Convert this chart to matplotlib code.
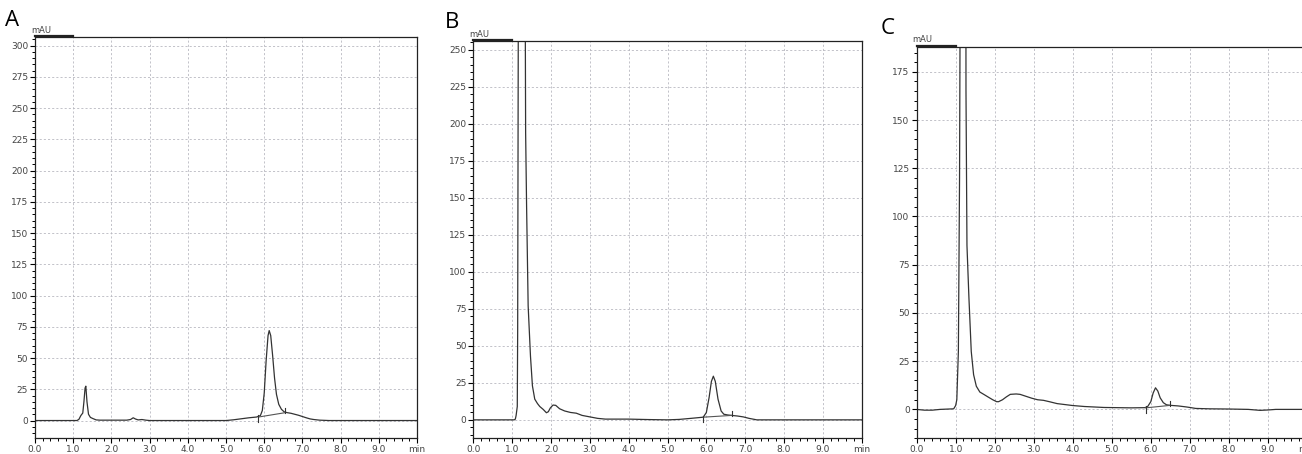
import numpy as np
import matplotlib
matplotlib.use("Agg")
import matplotlib.pyplot as plt
from matplotlib.ticker import MultipleLocator

# chromatogram traces (time in min, signal in mAU)
a_time = [0.0, 1.10, 1.15, 1.20, 1.25, 1.28, 1.31, 1.33, 1.36, 1.40, 1.45, 1.52,
          1.60, 1.70, 2.40, 2.50, 2.57, 2.63, 2.70, 2.80, 2.90, 3.00, 5.00, 5.20,
          5.40, 5.60, 5.80, 5.90, 5.95, 6.00, 6.05, 6.10, 6.13, 6.17, 6.22, 6.27,
          6.32, 6.38, 6.45, 6.52, 6.60, 6.70, 6.80, 6.90, 7.00, 7.10, 7.20, 7.30,
          7.45, 7.70, 10.0]
a_signal = [0, 0, 1, 4, 6, 15, 26, 27.5, 15, 5, 2.5, 1.5,
            0.5, 0.3, 0.3, 0.8, 2.2, 1.2, 0.5, 0.8, 0.3, 0, 0, 0.6,
            1.4, 2.2, 2.8, 4, 8, 22, 48, 68, 72, 68, 52, 34,
            21, 13, 9, 7, 6.3, 5.8, 5.0, 4.2, 3.2, 2.2, 1.3, 0.8,
            0.3, 0, 0]

b_time = [0.0, 1.05, 1.08, 1.10, 1.13, 1.14, 1.16, 1.25, 1.33, 1.345, 1.37, 1.41,
          1.47, 1.52, 1.58, 1.65, 1.71, 1.80, 1.88, 1.93, 1.98, 2.05, 2.12, 2.22,
          2.35, 2.50, 2.65, 2.80, 3.00, 3.20, 3.40, 4.00, 4.50, 5.00, 5.30, 5.60,
          5.92, 6.00, 6.07, 6.13, 6.18, 6.23, 6.30, 6.38, 6.45, 6.55, 6.65, 6.80,
          6.95, 7.10, 7.30, 10.0]
b_signal = [0, 0, 0.5, 3, 9, 60, 320, 700, 320, 194, 144, 77,
            43, 23, 14, 11, 9, 7, 4.8, 5.5, 8, 10, 9.8, 7.5,
            6, 5, 4.5, 3, 2, 1, 0.5, 0.5, 0.2, 0, 0.3, 1,
            1.8, 5, 15, 26, 29.5, 26, 14, 6, 3.8, 3.3, 3, 2.6,
            2, 1, 0, 0]

c_time = [0.0, 0.2, 0.4, 0.6, 0.95, 1.00, 1.03, 1.07, 1.10, 1.13, 1.20, 1.26,
          1.265, 1.29, 1.34, 1.40, 1.46, 1.53, 1.62, 1.72, 1.85, 1.95, 2.05, 2.10,
          2.20, 2.30, 2.40, 2.55, 2.65, 2.80, 2.95, 3.10, 3.25, 3.40, 3.60, 3.80,
          4.00, 4.30, 4.80, 5.50, 5.85, 5.92, 6.00, 6.06, 6.12, 6.18, 6.24, 6.32,
          6.40, 6.50, 6.70, 6.90, 7.00, 7.15, 7.50, 8.00, 8.50, 8.80, 9.00, 9.20,
          10.0]
c_signal = [0, -0.4, -0.4, 0, 0.3, 2, 5, 30, 120, 300, 500, 300,
            165, 85, 58, 30, 18, 12, 9, 7.8, 6.2, 5, 4, 4,
            5, 6.5, 7.8, 8, 7.8, 6.8, 5.8, 5.0, 4.7, 4, 3, 2.5,
            2, 1.5, 1.0, 0.8, 0.9, 1.5, 4, 8.5, 11.2, 9.5, 6, 3.5,
            2.4, 2.1, 1.8, 1.3, 1, 0.5, 0.3, 0.2, 0, -0.5, -0.3, 0,
            0]

# integration baseline (start, end) for the peak near 6.1 min
a_base_t = [5.85, 6.55]
a_base_v = [2.8, 6.3]
b_base_t = [5.92, 6.65]
b_base_v = [1.8, 3.0]
c_base_t = [5.87, 6.50]
c_base_v = [0.8, 2.1]

x_ticks = [0, 1, 2, 3, 4, 5, 6, 7, 8, 9, 10]
x_labels = ["0.0", "1.0", "2.0", "3.0", "4.0", "5.0", "6.0", "7.0", "8.0", "9.0", "min"]

panels = [
    ("A", a_time, a_signal, a_base_t, a_base_v, 300, (-14, 307),
     [0.0269, 0.0352, 0.2934, 0.8833], (12, 20)),
    ("B", b_time, b_signal, b_base_t, b_base_v, 250, (-12, 256),
     [0.3636, 0.0361, 0.2982, 0.8736], (452, 23)),
    ("C", c_time, c_signal, c_base_t, c_base_v, 175, (-15, 188),
     [0.7040, 0.0345, 0.2998, 0.8626], (888, 29)),
]

plt.rcParams["font.family"] = ["Liberation Sans Narrow", "DejaVu Sans"]

W, H = 1302, 454
fig = plt.figure(figsize=(W / 100, H / 100), dpi=100)

for letter, t, v, bt, bv, ytop, ylim, pos, lab in panels:
    ax = fig.add_axes(pos)
    ax.plot(t, v, color="#333333", lw=0.9)
    ax.plot(bt, bv, color="#555555", lw=0.8)
    # start / end markers of the integrated peak
    span = ylim[1] - ylim[0]
    ax.plot([bt[0], bt[0]], [bv[0] - 0.012 * span, bv[0] + 0.004 * span],
            color="#333333", lw=0.8)
    ax.plot([bt[1], bt[1]], [bv[1] + 0.012 * span, bv[1] - 0.002 * span],
            color="#333333", lw=0.8)

    ax.set_xlim(0, 10)
    ax.set_ylim(*ylim)
    ax.set_xticks(x_ticks)
    ax.set_xticklabels(x_labels)
    ax.set_yticks(np.arange(0, ytop + 1, 25))
    ax.xaxis.set_minor_locator(MultipleLocator(0.2))
    ax.yaxis.set_minor_locator(MultipleLocator(5))
    ax.tick_params(which="major", direction="out", length=3.5, width=0.8,
                   labelsize=6.5, labelcolor="#444444", pad=1.5)
    ax.tick_params(which="minor", direction="out", length=2, width=0.7)
    ax.grid(True, which="major", color="#b8b8c0", lw=0.6, ls=(0, (2.5, 2.5)))
    for s in ax.spines.values():
        s.set_linewidth(0.9)
        s.set_color("#222222")

    # thick marker segment at the top left of each plot frame
    ax.plot([0, 1], [1.003, 1.003], transform=ax.get_xaxis_transform(),
            color="#222222", lw=1.6, clip_on=False)
    ax.text(-0.01, 1.006, "mAU", transform=ax.transAxes, fontsize=6,
            color="#444444", ha="left", va="bottom")
    fig.text(lab[0] / W, 1 - lab[1] / H, letter, fontsize=16,
             ha="center", va="center", family=["Open Sans", "DejaVu Sans"])

fig.savefig("out.png", dpi=100)
